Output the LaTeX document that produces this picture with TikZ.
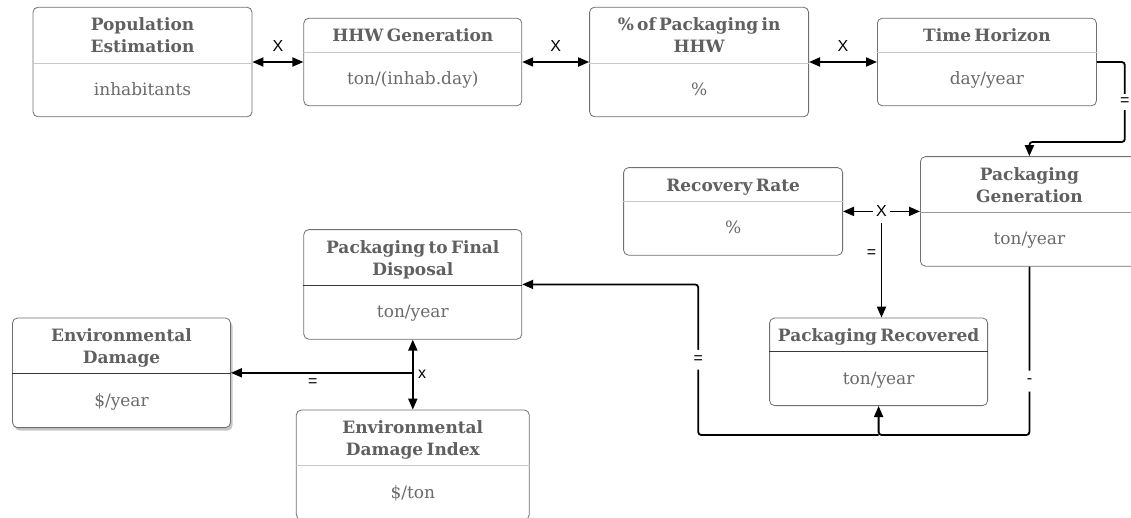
\documentclass[tikz,border=0pt]{standalone}
\usepackage{fontspec}
\setmainfont{DejaVu Serif}
\setsansfont{Liberation Sans}
\usetikzlibrary{positioning, calc, arrows.meta, shapes.multipart, shadows}
\definecolor{boxline}{HTML}{707070}
\definecolor{boxtext}{HTML}{606060}
\definecolor{unittext}{HTML}{6A6A6A}
\definecolor{splitlight}{HTML}{C8C8C8}
\definecolor{splitmid}{HTML}{9A9A9A}
\definecolor{splitdark}{HTML}{3A3A3A}

% title and unit of a box
\newcommand{\hd}[1]{\fontsize{17}{22}\selectfont\bfseries\rule{0pt}{23pt}#1\rule[-10pt]{0pt}{10pt}\par}
\newcommand{\un}[1]{\fontsize{17}{22}\selectfont\color{unittext}\rule[-21pt]{0pt}{53pt}#1\par}

\begin{document}
\begin{tikzpicture}[
    x=1pt, y=-1pt,
    >={Triangle[length=11pt, width=9pt]},
    line width=1.8pt,
    box/.style={
        rectangle split,
        rectangle split parts=2,
        rectangle split draw splits=false,
        draw=boxline,
        line width=0.8pt,
        rounded corners=5pt,
        fill=white,
        text=boxtext,
        text width=#1,
        align=center,
        inner xsep=0pt,
        inner ysep=0pt
    },
    box/.default=218pt,
    shadowbox/.style={
        box=#1,
        drop shadow={opacity=0.45, shadow xshift=2pt, shadow yshift=-3pt}
    },
    shadowbox/.default=218pt,
    oplabel/.style={font=\sffamily\fontsize{16}{16}\selectfont, inner sep=1.5pt},
    onlabel/.style={oplabel, fill=white, inner ysep=4pt}
]
\useasboundingbox (0,0) rectangle (1131,517);

% Top row
\node[box=219pt] (pop) at (142.5,62) {\hd{Population\\Estimation}\nodepart{two}\un{inhabitants}};
\node[box, right=51pt of pop] (hhw) {\hd{HHW Generation}\nodepart{two}\un{ton/(inhab.day)}};
\node[box=219pt, right=67pt of hhw] (pct) {\hd{\% of Packaging in\\HHW}\nodepart{two}\un{\%}};
\node[box=219pt, right=68pt of pct] (time) {\hd{Time Horizon}\nodepart{two}\un{day/year}};

% Packaging balance
\node[box, below=50pt of time, xshift=42.5pt] (gen) {\hd{Packaging\\Generation}\nodepart{two}\un{ton/year}};
\node[box=219pt, left=77pt of gen] (rate) {\hd{Recovery Rate}\nodepart{two}\un{\%}};
\node[box, below=62pt of rate, xshift=145.5pt] (rec) {\hd{Packaging Recovered}\nodepart{two}\un{ton/year}};
\node[box, below=123pt of hhw] (disp) {\hd{Packaging to Final\\Disposal}\nodepart{two}\un{ton/year}};

% Damage
\node[box=233pt, below=70pt of disp] (idx) {\hd{Environmental\\Damage Index}\nodepart{two}\un{\$/ton}};
\node[shadowbox, left=65pt of idx, yshift=92pt] (dmg) {\hd{Environmental\\Damage}\nodepart{two}\un{\$/year}};

% Dividers
\foreach \n in {pop, hhw, pct, time, rate, idx}
    \draw[splitlight, line width=0.8pt] (\n.text split west) -- (\n.text split east);
\draw[splitmid, line width=0.8pt] (gen.text split west) -- (gen.text split east);
\foreach \n in {disp, dmg, rec}
    \draw[splitdark, line width=0.8pt] (\n.text split west) -- (\n.text split east);

% Edges
\draw[<->] (pop.east) -- node[oplabel, above=8pt]{X} (hhw.west);
\draw[<->] (hhw.east) -- node[oplabel, above=8pt]{X} (pct.west);
\draw[<->] (pct.east) -- node[oplabel, above=8pt]{X} (time.west);
\draw[->, rounded corners=3pt] (time.east) -| ++(28,80) node[pos=0.75, onlabel]{=} -| (gen.north);
\draw[<->] (rate.east) -- node[onlabel, inner xsep=3pt] (rx) {X} (gen.west);
\draw[->] ([yshift=-12pt]rx.center) -- node[pos=0.32, oplabel, left=3pt]{=} (rx.center |- rec.north);
\coordinate (jn) at ([yshift=-29pt]rec.south);
\draw[->, rounded corners=3pt] (gen.south) |- node[pos=0.34, onlabel, inner ysep=8pt]{-} (jn) -- (rec.south);
\draw[->, rounded corners=3pt] (jn) -| node[pos=0.75, onlabel, inner ysep=6pt]{=} ($(disp.east)+(176,0)$) -- (disp.east);
\draw[<->] (disp.south) -- node[oplabel, right=3pt]{x} (idx.north);
\coordinate (dx) at (disp.south |- dmg.east);
\draw[->] (dx) -- node[pos=0.55, oplabel, below=3pt]{=} (dmg.east);

\end{tikzpicture}
\end{document}
